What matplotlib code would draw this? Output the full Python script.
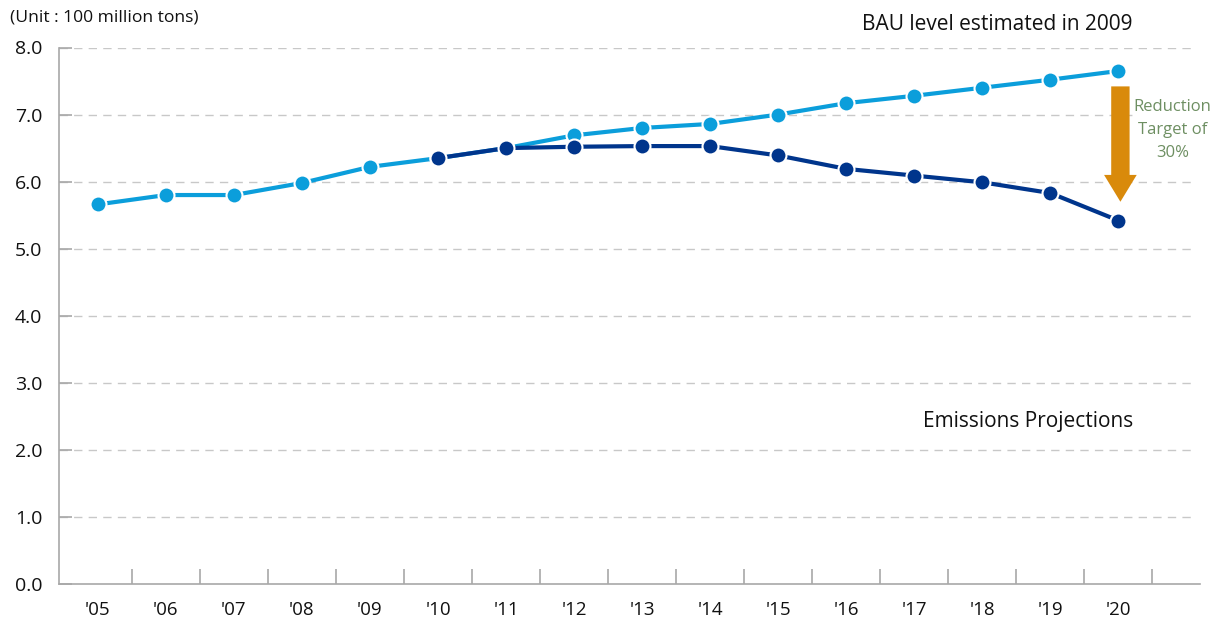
import matplotlib
matplotlib.use("Agg")
import matplotlib.pyplot as plt
import numpy as np

plt.rcParams['font.family'] = ['Open Sans', 'DejaVu Sans']

years = ["'05", "'06", "'07", "'08", "'09", "'10", "'11", "'12", "'13", "'14",
         "'15", "'16", "'17", "'18", "'19", "'20"]
bau = [5.66, 5.80, 5.80, 5.98, 6.22, 6.35, 6.50, 6.69, 6.80, 6.86,
       7.00, 7.17, 7.28, 7.40, 7.52, 7.65]
proj_years = years[5:]
projection = [6.35, 6.50, 6.52, 6.53, 6.53, 6.39, 6.19, 6.09, 5.99, 5.83, 5.42]
yticks = [0, 1, 2, 3, 4, 5, 6, 7, 8]

LIGHT = '#0b9edb'
DARK = '#00358c'
GRID = '#c8c8c8'
AXC = '#a8a8a8'

fig = plt.figure(figsize=(12.16, 6.23), dpi=100)
ax = fig.add_axes([59/1216, 39/623, (1200-59)/1216, (584-47.5)/623])

x_all = np.arange(len(years))
x_proj = np.array([years.index(y) for y in proj_years])

ax.set_xlim(-0.57, 16.2)
ax.set_ylim(0, 8)

for v in yticks[1:]:
    ax.axhline(v, color=GRID, lw=1.0, ls=(0, (6, 4.5)), zorder=1, xmax=0.992)

ax.plot(x_all, bau, color=LIGHT, lw=3.0, marker='o', ms=11.5, mfc=LIGHT,
        mec='white', mew=1.5, zorder=3, solid_capstyle='butt')
ax.plot(x_proj, projection, color=DARK, lw=3.0, marker='o', ms=11.5, mfc=DARK,
        mec='white', mew=1.5, zorder=4, solid_capstyle='butt')

# spines
for s in ['top', 'right']:
    ax.spines[s].set_visible(False)
ax.spines['left'].set_color(AXC)
ax.spines['bottom'].set_color(AXC)
ax.spines['left'].set_linewidth(1.2)
ax.spines['bottom'].set_linewidth(1.2)

ax.set_yticks(yticks)
ax.set_yticklabels([f"{v:.1f}" for v in yticks], fontsize=14, color='#111111')
ax.tick_params(axis='y', direction='in', length=9, width=1.2, color=AXC, pad=12)

ax.set_xticks(x_all)
ax.set_xticklabels(years, fontsize=13.5, color='#111111')
ax.set_xticks(x_all + 0.5, minor=True)
ax.tick_params(axis='x', which='major', length=0, pad=12)
ax.tick_params(axis='x', which='minor', direction='in', length=11, width=1.2, color=AXC)

# arrow
ax.arrow(15.03, 7.42, 0, 5.70 - 7.42, width=0.27, head_width=0.48, head_length=0.40,
         length_includes_head=True, color='#d98a0b', ec='none', zorder=7)

ax.text(15.8, 6.77, "Reduction\nTarget of\n30%", ha='center', va='center',
        fontsize=12, color='#6e8f62', linespacing=1.55, zorder=6,
        bbox=dict(facecolor='white', edgecolor='none', pad=0.5))

fig.text(1133/1216, 1 - 25/623, "BAU level estimated in 2009", ha='right', va='center',
         fontsize=15, color='#111111')
fig.text(1133/1216, 1 - 421/623, "Emissions Projections", ha='right', va='center',
         fontsize=15, color='#111111')
fig.text(10/1216, 1 - 18/623, "(Unit : 100 million tons)", ha='left', va='center',
         fontsize=12.6, color='#111111')

fig.savefig("out.png", dpi=100)
